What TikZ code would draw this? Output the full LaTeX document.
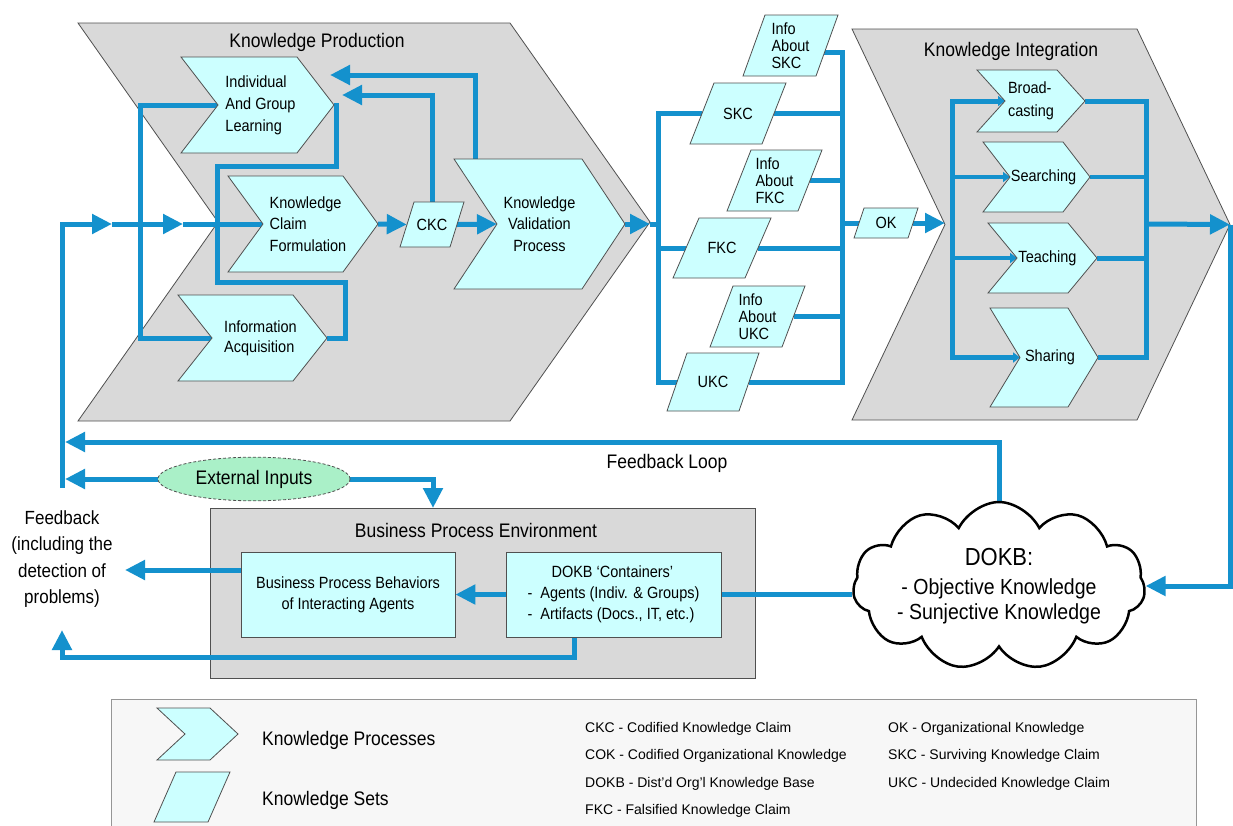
\documentclass[tikz,border=0pt]{standalone}
\usepackage{fontspec}
\setmainfont{Liberation Sans}
\usetikzlibrary{arrows.meta,calc,shapes.geometric,shapes.symbols}
\definecolor{kblue}{RGB}{20,145,205}
\definecolor{kcyan}{RGB}{204,255,255}
\definecolor{kgray}{RGB}{217,217,217}
\definecolor{kedge}{RGB}{80,80,80}
\definecolor{kgreen}{RGB}{170,240,200}
\definecolor{klegend}{RGB}{247,247,247}
\pgfdeclarelayer{back}
\pgfdeclarelayer{lines}
\pgfdeclarelayer{shapes}
\pgfsetlayers{back,lines,shapes,main}
\tikzset{
  conn/.style={draw=kblue, line width=5pt},
  thinconn/.style={draw=kblue, line width=3.5pt},
  arr/.style={-{Triangle[length=20pt,width=19pt]}},
  sarr/.style={-{Triangle[length=7pt,width=10pt]}},
  procfill/.style={fill=kcyan, draw=kedge, line width=0.8pt},
  bigfill/.style={fill=kgray, draw=kedge, line width=0.8pt},
  holder/.style={inner sep=0pt, outer sep=0pt},
  tall/.style={yscale=1.12},
  ttl/.style={font=\fontsize{17.5}{19}\selectfont, inner sep=0pt},
  ptext/.style={font=\fontsize{14.5}{19}\selectfont, align=center, inner sep=0pt},
  infot/.style={font=\fontsize{14.5}{15}\selectfont, align=left},
  legt/.style={font=\fontsize{14}{16}\selectfont, anchor=west, inner sep=0pt},
  boxn/.style={rectangle, fill=kcyan, draw=kedge, line width=0.8pt, ptext, tall},
}
% \kproc{name}{xl}{yt}{w}{h}{d}{text options}{text}
\newcommand{\kproc}[8]{%
  \node[holder, minimum width=#4pt, minimum height=#5pt] (#1) at ({#2+#6+#4/2},{#3+#5/2}) {};
  \node[ptext, tall, #7] (#1-t) at ({#2+#4/2+#6/2},{#3+#5/2}) {#8};
  \begin{pgfonlayer}{shapes}
    \path[procfill] (#2,#3) -- ++(#4,0) -- ++(#6,{#5/2}) -- ++(-#6,{#5/2}) -- ++(-#4,0) -- ++(#6,{-#5/2}) -- cycle;
  \end{pgfonlayer}}
% \kbig{name}{xl}{yt}{w}{h}{d}
\newcommand{\kbig}[6]{%
  \node[holder, minimum width=#4pt, minimum height=#5pt] (#1) at ({#2+#6+#4/2},{#3+#5/2}) {};
  \begin{pgfonlayer}{back}
    \path[bigfill] (#2,#3) -- ++(#4,0) -- ++(#6,{#5/2}) -- ++(-#6,{#5/2}) -- ++(-#4,0) -- ++(#6,{-#5/2}) -- cycle;
  \end{pgfonlayer}}
% \kset{name}{xbl}{yt}{w}{h}{s}{text options}{text}
\newcommand{\kset}[8]{%
  \node[ptext, tall, minimum width=#4pt, minimum height={#5/1.12*1pt}, #7] (#1) at ({#2+#4/2+#6/2},{#3+#5/2}) {#8};
  \begin{pgfonlayer}{shapes}
    \path[procfill] ({#2+#6},#3) -- ++(#4,0) -- ++(-#6,#5) -- ++(-#4,0) -- cycle;
  \end{pgfonlayer}}

\begin{document}
\begin{tikzpicture}[x=1pt,y=-1pt]
\useasboundingbox (0,0) rectangle (1233,825);
\begin{pgfonlayer}{back}
  \path[fill=white] (0,0) rectangle (1233,825);
  \node[holder, draw=kedge!60, fill=klegend, line width=0.8pt, minimum width=1085pt, minimum height=140pt, anchor=north west] (leg) at (111,699) {};
  \node[holder, draw=kedge, fill=kgray, line width=0.8pt, minimum width=545pt, minimum height=170pt] (bpe) at (482.5,593) {};
\end{pgfonlayer}

% big process chevrons
\kbig{kp}{78}{23}{432}{398}{140}
\kbig{ki}{852}{29}{285}{391}{93}
\node[ttl, tall] (kp-t) at (317,42) {Knowledge Production};
\node[ttl, tall] (ki-t) at (1011,51) {Knowledge Integration};

% knowledge production processes
\kproc{iagl}{181}{57}{116}{96}{37}{align=left, xshift=3pt, font=\fontsize{14.5}{19.6}\selectfont}{Individual\\And Group\\Learning}
\kproc{kcf}{228}{176}{115}{96}{35}{align=left, xshift=5pt}{Knowledge\\Claim\\Formulation}
\kproc{ia}{178}{295}{115}{86}{34}{align=left, xshift=8pt, font=\fontsize{14.5}{18}\selectfont}{Information\\Acquisition}
\kproc{kvp}{454}{159}{128}{130}{43}{}{Knowledge\\Validation\\Process}

% knowledge integration processes
\kproc{brd}{977}{70}{80}{62}{28}{align=left, font=\fontsize{14.5}{20.5}\selectfont}{Broad-\\casting}
\kproc{srch}{983}{142}{80}{70}{27}{xshift=7pt}{Searching}
\kproc{tch}{988}{223}{80}{70}{29}{xshift=5pt}{Teaching}
\kproc{shr}{990}{308}{78}{99}{30}{xshift=6pt}{Sharing}

% knowledge sets
\kset{ckc}{400}{202}{50}{45}{14}{}{CKC}
\kset{infoskc}{743}{15}{73}{61}{22}{infot}{Info\\About\\SKC}
\kset{skc}{690}{83}{72}{61}{24}{}{SKC}
\kset{infofkc}{727}{150}{71}{61}{24}{infot}{Info\\About\\FKC}
\kset{fkc}{673}{218}{72}{60}{26}{}{FKC}
\kset{infoukc}{710}{286}{72}{61}{23}{infot}{Info\\About\\UKC}
\kset{ukc}{667}{353}{72}{58}{20}{}{UKC}
\kset{ok}{854}{208}{54}{30}{10}{}{OK}

% business process environment
\node[ttl, tall] (bpe-t) at (476,530) {Business Process Environment};
\node[boxn, minimum width=214pt, minimum height=76pt] (bpb) at (348,594.5) {Business Process Behaviors\\of Interacting Agents};
\node[boxn, align=left, minimum width=215pt, minimum height=76pt] (dcont) at (613.5,594.5) {\hspace*{24pt}DOKB ‘Containers’\\-\ \ Agents (Indiv. \& Groups)\\-\ \ Artifacts (Docs., IT, etc.)};
\node[ellipse, fill=kgreen, draw=kedge, densely dashed, line width=0.8pt, minimum width=192pt, minimum height=39pt, ttl, tall] (ext) at (254,479) {External Inputs};
\node[cloud, cloud puffs=11, cloud puff arc=120, cloud ignores aspect, draw=black, line width=2.5pt, fill=white, minimum width=286pt, minimum height=150pt, align=center, inner sep=0pt, tall, font=\fontsize{19.5}{22}\selectfont] (cloud) at (999,586) {{\fontsize{22}{24}\selectfont DOKB:}\\[4pt]- Objective Knowledge\\- Sunjective Knowledge};
\node[ttl, tall, align=center, font=\fontsize{17}{23.5}\selectfont] (fbtext) at (62,559) {Feedback\\(including the\\detection of\\problems)};
\node[ttl, tall] (fbl-t) at (667,463) {Feedback Loop};

% legend
\kproc{legp}{157}{708}{53}{52}{28}{}{}
\kset{legs}{154}{772}{54}{50}{22}{}{}
\node[ttl, tall, anchor=west] (leg-p) at (262,740) {Knowledge Processes};
\node[ttl, tall, anchor=west] (leg-s) at (262,800) {Knowledge Sets};
\node[legt] (l1) at (585,729) {CKC - Codified Knowledge Claim};
\node[legt] (l2) at (585,756) {COK - Codified Organizational Knowledge};
\node[legt] (l3) at (585,784) {DOKB - Dist'd Org'l Knowledge Base};
\node[legt] (l4) at (585,811) {FKC - Falsified Knowledge Claim};
\node[legt] (l5) at (888,729) {OK - Organizational Knowledge};
\node[legt] (l6) at (888,756) {SKC - Surviving Knowledge Claim};
\node[legt] (l7) at (888,784) {UKC - Undecided Knowledge Claim};

% free ends
\coordinate (fbtop) at (62,224);
\coordinate (fbbot) at (62,488);
\coordinate (a1) at (112,224);
\coordinate (a2) at (183,224);
\coordinate (lbus) at (658,224);
\coordinate (rbus) at (842,224);
\coordinate (kib) at (952,224);
\coordinate (kob) at (1146,224);
\coordinate (fbl) at (65,442);
\coordinate (fbarr) at (125,570);
\coordinate (fbup) at (62,630);

\begin{pgfonlayer}{lines}
  % main input line
  \draw[conn,arr] (fbbot) -- (fbtop) -- (a1);
  \draw[conn,arr] (a1) -- (a2);
  \draw[conn] (a2) -- (kcf.west);
  \draw[conn] (iagl.west) -- ++(-78,0) |- (ia.west);
  \draw[conn] (iagl.east) -- ++(2,0) -- ++(0,61) -- ++(-119,0) -- ++(0,116) -- ++(128,0) -- ++(0,56) -- (ia.east);
  % production chain
  \draw[conn,arr] (kcf.east) -- (ckc.west);
  \draw[conn,arr] (ckc.east) -- (kvp.west);
  \draw[conn,arr] (ckc.north) |- ($(iagl.east)+(8,-10)$);
  \draw[conn,arr] ($(kvp.north west)+(-22,0)$) |- ($(iagl.east)+(-4,-30)$);
  \draw[conn,arr] (kvp.east) -- (kp.east |- kvp.east);
  \draw[conn] (kp.east |- kvp.east) -- (lbus);
  % knowledge sets
  \draw[conn] (skc.west) -| (lbus |- ukc.west) -- (ukc.west);
  \draw[conn] (lbus |- fkc.west) -- (fkc.west);
  \draw[conn] ($(infoskc.east)+(-3,7)$) -| (rbus |- ukc.east) -- (ukc.east);
  \foreach \n in {skc,infofkc,fkc,infoukc} \draw[conn] (\n.east) -- (rbus |- \n.east);
  \draw[conn] (rbus |- ok.west) -- (ok.west);
  \draw[conn,arr] (ok.east) -- (ki.west |- ok.east);
  % integration
  \draw[conn,{Triangle[length=7pt,width=10pt]}-{Triangle[length=7pt,width=10pt]}] (brd.west) -| (kib |- shr.west) -- (shr.west);
  \draw[thinconn,sarr] (kib |- srch.west) -- (srch.west);
  \draw[thinconn,sarr] (kib |- tch.west) -- (tch.west);
  \draw[conn] (brd.east) -| (kob |- shr.east) -- (shr.east);
  \draw[thinconn] (srch.east) -- (kob |- srch.east);
  \draw[conn] (tch.east) -- (kob |- tch.east);
  \draw[conn,arr] (kob) -- (ki.east);
  \draw[conn,arr] (ki.east) |- (cloud.east);
  % feedback
  \draw[conn,arr] (cloud.north) |- (fbl);
  \draw[conn,arr] (ext.west) -- (ext.west -| fbl);
  \draw[conn,arr] (ext.east) -| ($(bpe.north west)+(223,0)$);
  \draw[conn,arr] (dcont.west) -- (bpb.east);
  \draw[conn,arr] (bpb.west |- fbarr) -- (fbarr);
  \draw[conn,arr] ($(dcont.south west)+(69,0)$) -- ++(0,20) -| (fbup);
  \draw[conn] (dcont.east) -- (dcont.east -| cloud.west);
\end{pgfonlayer}
\end{tikzpicture}
\end{document}
